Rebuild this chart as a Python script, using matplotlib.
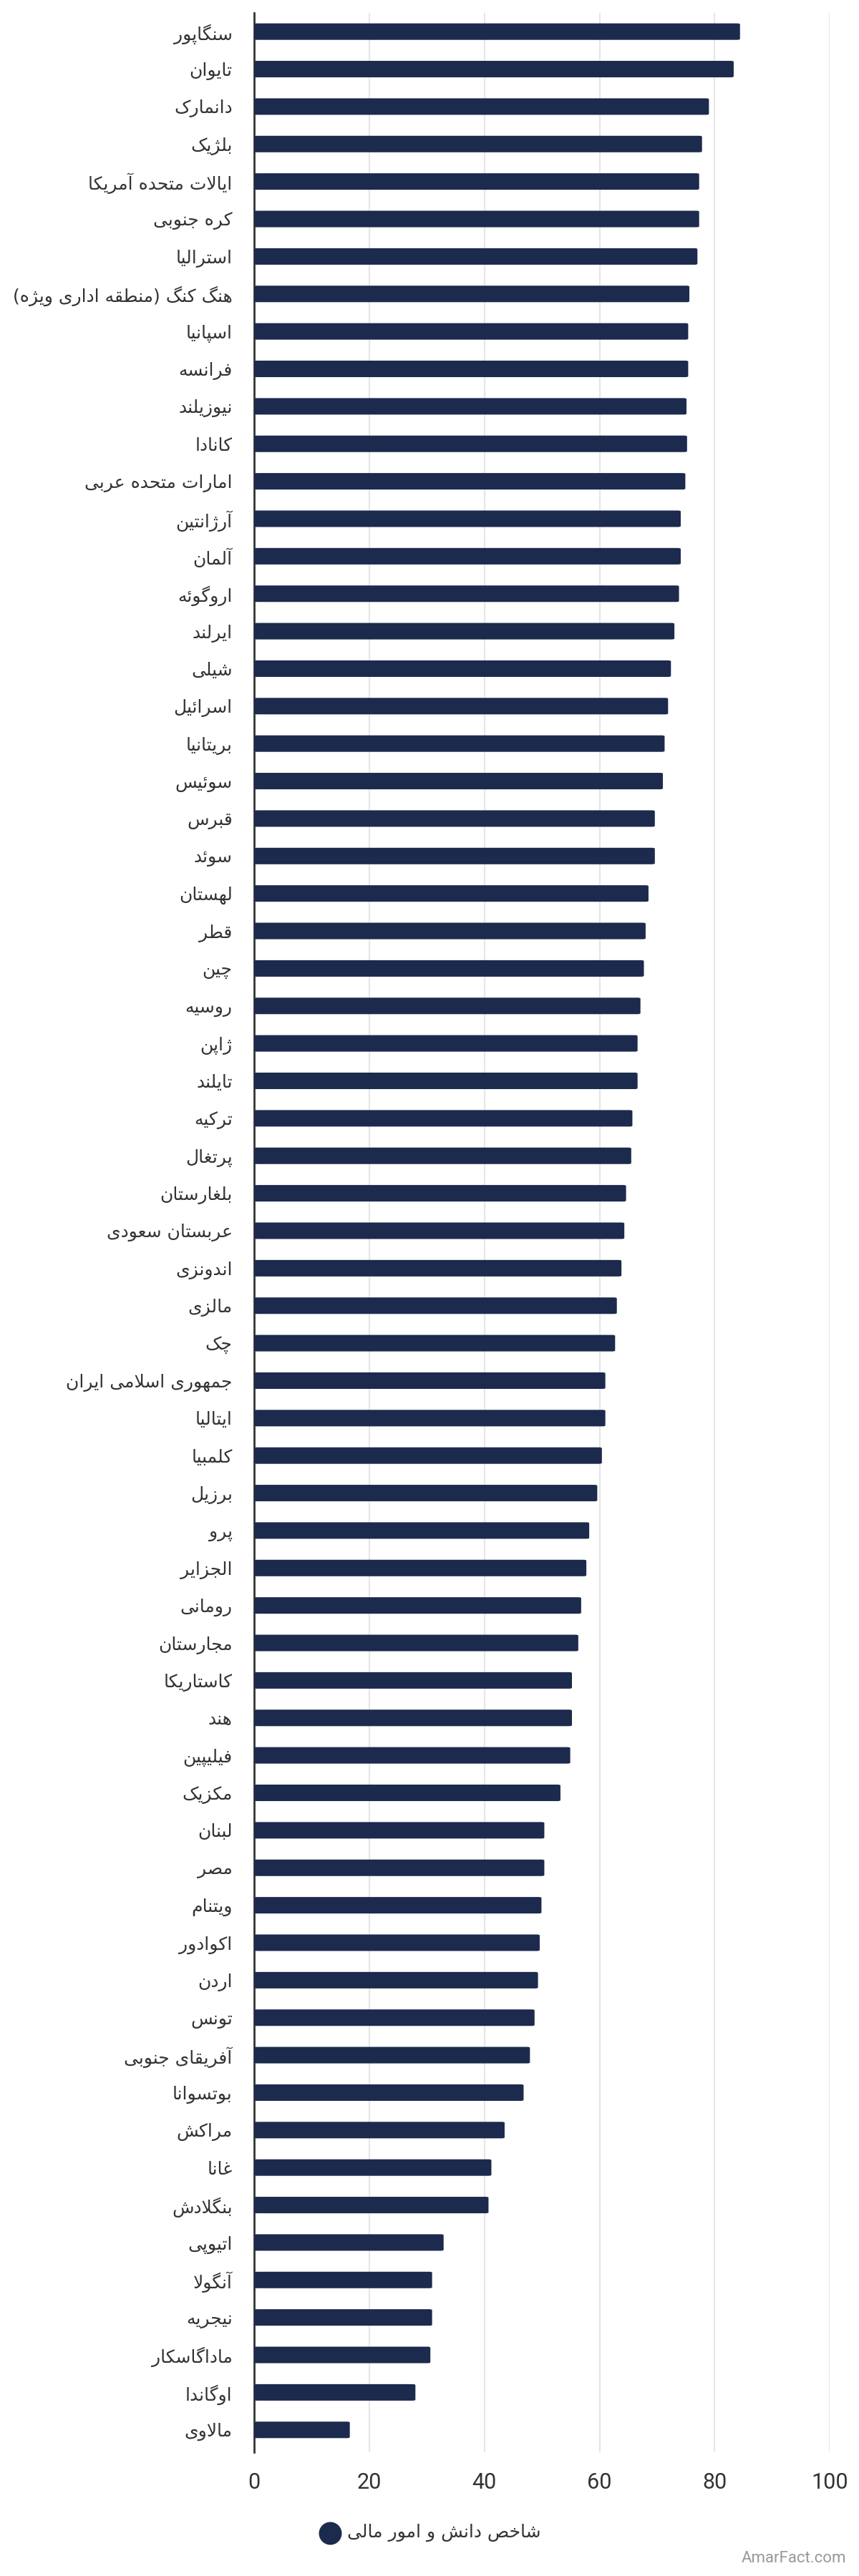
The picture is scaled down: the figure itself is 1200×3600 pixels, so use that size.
import matplotlib
matplotlib.use("Agg")
import matplotlib.pyplot as plt
from matplotlib.patches import FancyBboxPatch
from matplotlib.lines import Line2D

countries = ["سنگاپور", "تایوان", "دانمارک", "بلژیک", "ایالات متحده آمریکا", "کره جنوبی", "استرالیا",
             "هنگ کنگ (منطقه اداری ویژه)", "اسپانیا", "فرانسه", "نیوزیلند", "کانادا", "امارات متحده عربی",
             "آرژانتین", "آلمان", "اروگوئه", "ایرلند", "شیلی", "اسرائیل", "بریتانیا", "سوئیس", "قبرس", "سوئد",
             "لهستان", "قطر", "چین", "روسیه", "ژاپن", "تایلند", "ترکیه", "پرتغال", "بلغارستان", "عربستان سعودی",
             "اندونزی", "مالزی", "چک", "جمهوری اسلامی ایران", "ایتالیا", "کلمبیا", "برزیل", "پرو", "الجزایر",
             "رومانی", "مجارستان", "کاستاریکا", "هند", "فیلیپین", "مکزیک", "لبنان", "مصر", "ویتنام", "اکوادور",
             "اردن", "تونس", "آفریقای جنوبی", "بوتسوانا", "مراکش", "غانا", "بنگلادش", "اتیوپی", "آنگولا",
             "نیجریه", "ماداگاسکار", "اوگاندا", "مالاوی"]
values = [84.4, 83.3, 79.0, 77.8, 77.3, 77.3, 77.0, 75.6, 75.4, 75.4, 75.1, 75.2, 74.9,
          74.1, 74.1, 73.8, 73.0, 72.4, 71.9, 71.3, 71.0, 69.6, 69.6,
          68.5, 68.0, 67.7, 67.1, 66.6, 66.6, 65.7, 65.5, 64.6, 64.3,
          63.8, 63.0, 62.7, 61.0, 61.0, 60.4, 59.6, 58.2, 57.7,
          56.8, 56.3, 55.2, 55.2, 54.9, 53.2, 50.4, 50.4, 49.9, 49.6,
          49.3, 48.7, 47.9, 46.8, 43.5, 41.2, 40.7, 32.9, 30.9,
          30.9, 30.6, 28.0, 16.6]
xticks = [0, 20, 40, 60, 80, 100]
legend_label = "شاخص دانش و امور مالی"

# --- minimal Arabic/Persian shaping (matplotlib has no shaping) ---
F = {  # iso, fin, ini, med
    'ا': (0xFE8D, 0xFE8E, None, None), 'آ': (0xFE81, 0xFE82, None, None),
    'ب': (0xFE8F, 0xFE90, 0xFE91, 0xFE92), 'پ': (0xFB56, 0xFB57, 0xFB58, 0xFB59),
    'ت': (0xFE95, 0xFE96, 0xFE97, 0xFE98), 'ث': (0xFE99, 0xFE9A, 0xFE9B, 0xFE9C),
    'ج': (0xFE9D, 0xFE9E, 0xFE9F, 0xFEA0), 'چ': (0xFB7A, 0xFB7B, 0xFB7C, 0xFB7D),
    'ح': (0xFEA1, 0xFEA2, 0xFEA3, 0xFEA4), 'خ': (0xFEA5, 0xFEA6, 0xFEA7, 0xFEA8),
    'د': (0xFEA9, 0xFEAA, None, None), 'ذ': (0xFEAB, 0xFEAC, None, None),
    'ر': (0xFEAD, 0xFEAE, None, None), 'ز': (0xFEAF, 0xFEB0, None, None),
    'ژ': (0xFB8A, 0xFB8B, None, None),
    'س': (0xFEB1, 0xFEB2, 0xFEB3, 0xFEB4), 'ش': (0xFEB5, 0xFEB6, 0xFEB7, 0xFEB8),
    'ص': (0xFEB9, 0xFEBA, 0xFEBB, 0xFEBC), 'ض': (0xFEBD, 0xFEBE, 0xFEBF, 0xFEC0),
    'ط': (0xFEC1, 0xFEC2, 0xFEC3, 0xFEC4), 'ظ': (0xFEC5, 0xFEC6, 0xFEC7, 0xFEC8),
    'ع': (0xFEC9, 0xFECA, 0xFECB, 0xFECC), 'غ': (0xFECD, 0xFECE, 0xFECF, 0xFED0),
    'ف': (0xFED1, 0xFED2, 0xFED3, 0xFED4), 'ق': (0xFED5, 0xFED6, 0xFED7, 0xFED8),
    'ک': (0xFB8E, 0xFB8F, 0xFB90, 0xFB91), 'گ': (0xFB92, 0xFB93, 0xFB94, 0xFB95),
    'ل': (0xFEDD, 0xFEDE, 0xFEDF, 0xFEE0), 'م': (0xFEE1, 0xFEE2, 0xFEE3, 0xFEE4),
    'ن': (0xFEE5, 0xFEE6, 0xFEE7, 0xFEE8), 'و': (0xFEED, 0xFEEE, None, None),
    'ه': (0xFEE9, 0xFEEA, 0xFEEB, 0xFEEC), 'ی': (0xFBFC, 0xFBFD, 0xFBFE, 0xFBFF),
    'ئ': (0xFE89, 0xFE8A, 0xFE8B, 0xFE8C),
}

def shape(s):
    chars = []
    i = 0
    while i < len(s):
        if s[i] == 'ل' and i + 1 < len(s) and s[i + 1] in 'اآ':
            chars.append('LA' if s[i + 1] == 'ا' else 'LAA')
            i += 2
        else:
            chars.append(s[i]); i += 1

    def joins_next(c):
        if c in ('LA', 'LAA'):
            return False
        return c in F and F[c][2] is not None

    def joins_prev(c):
        return c in F or c in ('LA', 'LAA')

    out = []
    for k, c in enumerate(chars):
        prev = chars[k - 1] if k > 0 else None
        nxt = chars[k + 1] if k + 1 < len(chars) else None
        p = prev is not None and joins_next(prev) and joins_prev(c)
        n = nxt is not None and joins_next(c) and joins_prev(nxt)
        if c in ('LA', 'LAA'):
            iso, fin = (0xFEFB, 0xFEFC) if c == 'LA' else (0xFEF5, 0xFEF6)
            out.append(chr(fin if p else iso))
        elif c in F:
            iso, fin, ini, med = F[c]
            cp = med if (p and n) else fin if p else ini if n else iso
            out.append(chr(cp))
        else:
            out.append(c)
    r = ''.join(out)[::-1]
    return r.translate(str.maketrans('()', ')('))

bar_color = "#1c2a4d"
fig = plt.figure(figsize=(12, 36), dpi=100)
ax = fig.add_axes([0.296, 0.048, 0.670, 0.947])
ypos = list(range(len(countries)))
for y, v in zip(ypos, values):
    ax.add_patch(FancyBboxPatch((0, y - 0.22), v, 0.44,
                                boxstyle="round,pad=0,rounding_size=0.5",
                                mutation_aspect=0.05,
                                facecolor=bar_color, edgecolor="none", zorder=3))
ax.set_xlim(0, 100)
ax.set_ylim(len(countries) - 0.4, -0.5)
ax.set_yticks(ypos)
ax.set_yticklabels([shape(c) for c in countries], fontsize=18, color="#333333",
                   family=["DejaVu Sans"])
ax.set_xticks(xticks)
ax.set_xticklabels([str(t) for t in xticks], fontsize=22, color="#333333", family="Roboto")
ax.tick_params(axis='y', length=0, pad=22)
ax.tick_params(axis='x', length=0, pad=20)
ax.grid(axis='x', color="#e6e6e6", linewidth=1.5, zorder=0)
for s in ['top', 'right', 'bottom']:
    ax.spines[s].set_visible(False)
ax.spines['left'].set_color("#333333")
ax.spines['left'].set_linewidth(2)

# legend
fig.lines.append(Line2D([0.384], [0.0168], transform=fig.transFigure,
                        marker='o', markersize=22, color=bar_color, linestyle='none'))
fig.text(0.404, 0.0168, shape(legend_label), fontsize=18, color="#333333", va='center', ha='left',
         family="DejaVu Sans")
fig.text(0.985, 0.004, "AmarFact.com", fontsize=16, color="#999999", ha='right', va='bottom',
         family="Roboto")
fig.savefig("out.png", dpi=100, facecolor="white")
